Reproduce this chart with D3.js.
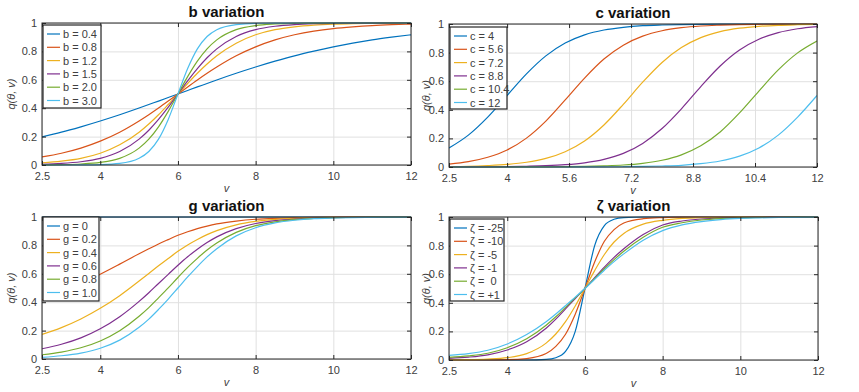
<!DOCTYPE html>
<html><head><meta charset="utf-8">
<script src="https://cdn.jsdelivr.net/npm/d3@7/dist/d3.min.js"></script>
<style>
body{margin:0;background:#fff;}
text{font-family:"Liberation Sans",Arial,sans-serif;}
</style></head>
<body><svg id="chart" width="859" height="392"></svg>
<script>
// ---------- data ----------
const vGrid = [2.5,3,3.5,4,4.5,5,5.25,5.5,5.75,6,6.25,6.5,6.75,7,7.5,8,8.5,9,9.5,10,10.5,11,11.5,12];
const vGridC = [2.5,3,3.5,4,4.5,5,5.5,6,6.5,7,7.5,8,8.5,9,9.5,10,10.5,11,11.5,12];

const xTicksStd = [2.5,4,6,8,10,12];
const xTickLabelsStd = ["2.5","4","6","8","10","12"];
const xTicksC = [2.5,4,5.6,7.2,8.8,10.4,12];
const xTickLabelsC = ["2.5","4","5.6","7.2","8.8","10.4","12"];
const yTicks = [0,0.2,0.4,0.6,0.8,1];
const yTickLabels = ["0","0.2","0.4","0.6","0.8","1"];

const bLabels = ["b = 0.4","b = 0.8","b = 1.2","b = 1.5","b = 2.0","b = 3.0"];
const bSeries = [
 [0.198,0.231,0.269,0.310,0.354,0.401,0.426,0.450,0.475,0.500,0.525,0.550,0.574,0.599,0.646,0.690,0.731,0.769,0.802,0.832,0.858,0.881,0.900,0.917],
 [0.057,0.083,0.119,0.168,0.231,0.310,0.354,0.401,0.450,0.500,0.550,0.599,0.646,0.690,0.769,0.832,0.881,0.917,0.943,0.961,0.973,0.982,0.988,0.992],
 [0.015,0.027,0.047,0.083,0.142,0.231,0.289,0.354,0.426,0.500,0.574,0.646,0.711,0.769,0.858,0.917,0.953,0.973,0.985,0.992,0.996,0.998,0.999,0.999],
 [0.005,0.011,0.023,0.047,0.095,0.182,0.245,0.321,0.407,0.500,0.593,0.679,0.755,0.818,0.905,0.953,0.977,0.989,0.995,0.998,0.999,0.999,1,1],
 [0.001,0.003,0.007,0.018,0.047,0.119,0.182,0.269,0.378,0.500,0.622,0.731,0.818,0.881,0.953,0.982,0.993,0.998,0.999,1,1,1,1,1],
 [0,0,0.001,0.003,0.011,0.047,0.095,0.182,0.321,0.500,0.679,0.818,0.905,0.953,0.989,0.998,0.999,1,1,1,1,1,1,1]
];

const cLabels = ["c = 4","c = 5.6","c = 7.2","c = 8.8","c = 10.4","c = 12"];
const cSeries = [
 [0.133,0.223,0.349,0.500,0.651,0.777,0.867,0.924,0.958,0.977,0.988,0.993,0.996,0.998,0.999,0.999,1,1,1,1],
 [0.020,0.037,0.068,0.119,0.202,0.321,0.469,0.622,0.755,0.852,0.915,0.953,0.974,0.986,0.992,0.996,0.998,0.999,0.999,1],
 [0.003,0.005,0.010,0.018,0.033,0.060,0.107,0.182,0.294,0.438,0.593,0.731,0.835,0.905,0.947,0.971,0.984,0.991,0.995,0.998],
 [0,0.001,0.001,0.002,0.005,0.009,0.016,0.029,0.053,0.095,0.165,0.269,0.407,0.562,0.706,0.818,0.893,0.940,0.967,0.982],
 [0,0,0,0,0.001,0.001,0.002,0.004,0.008,0.014,0.026,0.047,0.085,0.148,0.245,0.378,0.531,0.679,0.798,0.881],
 [0,0,0,0,0,0,0,0.001,0.001,0.002,0.004,0.007,0.012,0.023,0.042,0.076,0.133,0.223,0.349,0.500]
];

const gLabels = ["g = 0","g = 0.2","g = 0.4","g = 0.6","g = 0.8","g = 1.0"];
const gSeries = [
 [1,1,1,1,1,1,1,1,1,1,1,1,1,1,1,1,1,1,1,1,1,1,1,1],
 [0.416,0.470,0.531,0.597,0.668,0.741,0.776,0.810,0.841,0.871,0.896,0.918,0.936,0.951,0.971,0.984,0.991,0.995,0.998,0.999,0.999,1,1,1],
 [0.173,0.221,0.282,0.357,0.446,0.549,0.602,0.656,0.708,0.758,0.803,0.842,0.876,0.904,0.945,0.969,0.983,0.991,0.995,0.997,0.999,0.999,1,1],
 [0.072,0.104,0.149,0.213,0.298,0.406,0.467,0.532,0.596,0.660,0.720,0.773,0.820,0.860,0.918,0.954,0.974,0.986,0.993,0.996,0.998,0.999,0.999,1],
 [0.030,0.049,0.079,0.127,0.199,0.301,0.362,0.431,0.501,0.574,0.645,0.709,0.768,0.817,0.892,0.939,0.966,0.982,0.990,0.995,0.997,0.999,0.999,1],
 [0.012,0.023,0.042,0.076,0.133,0.223,0.281,0.349,0.422,0.500,0.578,0.651,0.719,0.777,0.867,0.924,0.958,0.977,0.988,0.993,0.996,0.998,0.999,0.999]
];

const zLabels = ["ζ = -25","ζ = -10","ζ = -5","ζ = -1","ζ =  0","ζ = +1"];
const zSeries = [
 [0,0,0,0,0,0.004,0.016,0.060,0.200,0.500,0.800,0.940,0.984,0.996,1,1,1,1,1,1,1,1,1,1],
 [0,0,0.001,0.002,0.010,0.045,0.095,0.180,0.320,0.500,0.685,0.830,0.912,0.958,0.988,0.996,0.999,1,1,1,1,1,1,1],
 [0.001,0.002,0.006,0.016,0.045,0.118,0.182,0.268,0.378,0.500,0.625,0.738,0.825,0.885,0.950,0.977,0.990,0.996,0.998,0.999,1,1,1,1],
 [0.012,0.020,0.036,0.070,0.128,0.222,0.286,0.358,0.430,0.500,0.576,0.650,0.718,0.778,0.878,0.944,0.972,0.986,0.993,0.996,0.998,0.999,1,1],
 [0.019,0.029,0.047,0.086,0.148,0.243,0.302,0.368,0.434,0.500,0.570,0.638,0.702,0.760,0.858,0.928,0.960,0.979,0.989,0.994,0.997,0.998,0.999,1],
 [0.033,0.045,0.068,0.112,0.178,0.268,0.322,0.380,0.440,0.500,0.565,0.628,0.688,0.742,0.838,0.905,0.945,0.968,0.982,0.990,0.994,0.997,0.998,0.999]
];

const colors = ["#0072BD","#D95319","#EDB120","#7E2F8E","#77AC30","#4DBEEE"];

// ---------- drawing ----------
const svg = d3.select("#chart");
const AX = "#262626", TXT = "#404040", GRID = "#e0e0e0";

function panel(cfg, idx){
  const g = svg.append("g");
  const x = d3.scaleLinear().domain([2.5,12]).range([cfg.l, cfg.r]);
  const y = d3.scaleLinear().domain([0,1]).range([cfg.b, cfg.t]);
  const W = cfg.r - cfg.l, H = cfg.b - cfg.t;

  // grid
  g.append("g").attr("transform",`translate(0,${cfg.b})`)
    .call(d3.axisBottom(x).tickValues(cfg.xTicks).tickSize(-H).tickFormat(""))
    .call(s=>{s.select(".domain").remove(); s.selectAll("line").attr("stroke",GRID);});
  g.append("g").attr("transform",`translate(${cfg.l},0)`)
    .call(d3.axisLeft(y).tickValues(yTicks).tickSize(-W).tickFormat(""))
    .call(s=>{s.select(".domain").remove(); s.selectAll("line").attr("stroke",GRID);});

  // clip + lines
  const cid = "clip"+idx;
  svg.append("clipPath").attr("id",cid).append("rect")
    .attr("x",cfg.l).attr("y",cfg.t-1).attr("width",W).attr("height",H+2);
  const line = d3.line().x((d,i)=>x(cfg.xs[i])).y(d=>y(d)).curve(d3.curveMonotoneX);
  g.append("g").attr("clip-path",`url(#${cid})`)
    .selectAll("path").data(cfg.series).join("path")
    .attr("d",line).attr("fill","none")
    .attr("stroke",(d,i)=>colors[i]).attr("stroke-width",1.2);

  // axes with inward ticks
  const fx = (d)=>cfg.xLabels[cfg.xTicks.indexOf(d)];
  const fy = (d)=>yTickLabels[yTicks.indexOf(d)];
  const styleAx = s=>{s.select(".domain").remove(); s.selectAll("line").attr("stroke",AX);
    s.selectAll("text").attr("fill",TXT).style("font-size","11px").style("font-family","Liberation Sans, Arial, sans-serif");};
  g.append("g").attr("transform",`translate(0,${cfg.b})`)
    .call(d3.axisBottom(x).tickValues(cfg.xTicks).tickSize(-4).tickPadding(7).tickFormat(fx)).call(styleAx);
  g.append("g").attr("transform",`translate(0,${cfg.t})`)
    .call(d3.axisTop(x).tickValues(cfg.xTicks).tickSize(-4).tickFormat("")).call(styleAx);
  g.append("g").attr("transform",`translate(${cfg.l},0)`)
    .call(d3.axisLeft(y).tickValues(yTicks).tickSize(-4).tickPadding(5).tickFormat(fy)).call(styleAx);
  g.append("g").attr("transform",`translate(${cfg.r},0)`)
    .call(d3.axisRight(y).tickValues(yTicks).tickSize(-4).tickFormat("")).call(styleAx);

  // box
  g.append("rect").attr("x",cfg.l).attr("y",cfg.t).attr("width",W).attr("height",H)
    .attr("fill","none").attr("stroke",AX).attr("stroke-width",1);

  // title
  g.append("text").attr("x",(cfg.l+cfg.r)/2).attr("y",cfg.t-6).attr("text-anchor","middle")
    .attr("fill","#111").style("font-size","15px").style("font-weight","bold").text(cfg.title);

  // axis labels
  g.append("text").attr("x",(cfg.l+cfg.r)/2).attr("y",cfg.b+27).attr("text-anchor","middle")
    .attr("fill",TXT).style("font-size","11px").style("font-style","italic").text("v");
  g.append("text").attr("transform",`translate(${cfg.yl},${(cfg.t+cfg.b)/2}) rotate(-90)`)
    .attr("text-anchor","middle").attr("fill",TXT).style("font-size","11px").style("font-style","italic")
    .text("q(θ, v)");

  // legend
  const L = cfg.legend;
  const lg = g.append("g");
  lg.append("rect").attr("x",L.x).attr("y",L.y).attr("width",L.w).attr("height",L.h)
    .attr("fill","#fff").attr("stroke",AX).attr("stroke-width",1.2);
  cfg.labels.forEach((lab,i)=>{
    const yy = L.y + 9 + i*13.3;
    lg.append("line").attr("x1",L.x+4).attr("x2",L.x+17).attr("y1",yy).attr("y2",yy)
      .attr("stroke",colors[i]).attr("stroke-width",1.2);
    lg.append("text").attr("x",L.x+20).attr("y",yy+4).attr("fill",TXT)
      .style("font-size","11px").style("white-space","pre").attr("xml:space","preserve").text(lab);
  });
}

panel({l:42,r:411,t:23,b:165,title:"b variation",xs:vGrid,series:bSeries,labels:bLabels,
  xTicks:xTicksStd,xLabels:xTickLabelsStd,yl:15,legend:{x:43,y:25,w:58,h:83}},0);
panel({l:449,r:817,t:24,b:167,title:"c variation",xs:vGridC,series:cSeries,labels:cLabels,
  xTicks:xTicksC,xLabels:xTickLabelsC,yl:430,legend:{x:450,y:27,w:57,h:82}},1);
panel({l:42,r:411,t:217,b:359,title:"g variation",xs:vGrid,series:gSeries,labels:gLabels,
  xTicks:xTicksStd,xLabels:xTickLabelsStd,yl:15,legend:{x:43,y:217,w:56,h:84}},2);
panel({l:449,r:818,t:217,b:360,title:"ζ variation",xs:vGrid,series:zSeries,labels:zLabels,
  xTicks:xTicksStd,xLabels:xTickLabelsStd,yl:430,legend:{x:450,y:219,w:54,h:82}},3);
</script></body></html>
